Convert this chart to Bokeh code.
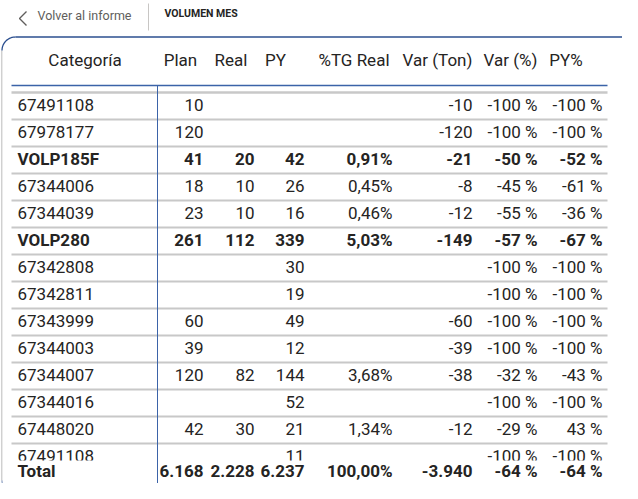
import numpy as np
from bokeh.plotting import figure
from bokeh.models import Range1d, ColumnDataSource
from bokeh.embed import file_html
from bokeh.resources import INLINE
from bokeh.core.properties import value

# ---------------- data ----------------
title = "VOLUMEN MES"
back_label = "Volver al informe"
headers = ["Categoría", "Plan", "Real", "PY", "%TG Real", "Var (Ton)", "Var (%)", "PY%"]
categories = ["67491108", "67978177", "VOLP185F", "67344006", "67344039", "VOLP280",
              "67342808", "67342811", "67343999", "67344003", "67344007", "67344016",
              "67448020", "67491108"]
is_group = [False, False, True, False, False, True, False, False, False, False, False,
            False, False, False]
plan = [10, 120, 41, 18, 23, 261, None, None, 60, 39, 120, None, 42, None]
real = [None, None, 20, 10, 10, 112, None, None, None, None, 82, None, 30, None]
py = [None, None, 42, 26, 16, 339, 30, 19, 49, 12, 144, 52, 21, 11]
tg_real = [None, None, 0.91, 0.45, 0.46, 5.03, None, None, None, None, 3.68, None, 1.34, None]
var_ton = [-10, -120, -21, -8, -12, -149, None, None, -60, -39, -38, None, -12, None]
var_pct = [-100, -100, -50, -45, -55, -57, -100, -100, -100, -100, -32, -100, -29, -100]
py_pct = [-100, -100, -52, -61, -36, -67, -100, -100, -100, -100, -43, -100, 43, -100]
total_label = "Total"
total_plan, total_real, total_py = 6168, 2228, 6237
total_tg, total_var_ton, total_var_pct, total_py_pct = 100.00, -3940, -64, -64


def fmt_int(v):
    if v is None:
        return ""
    return f"{v:,}".replace(",", ".")


def fmt_pct2(v):
    if v is None:
        return ""
    return f"{v:.2f}%".replace(".", ",")


def fmt_pct0(v):
    if v is None:
        return ""
    return f"{v:d} %"


columns = [
    [fmt_int(v) for v in plan],
    [fmt_int(v) for v in real],
    [fmt_int(v) for v in py],
    [fmt_pct2(v) for v in tg_real],
    [fmt_int(v) for v in var_ton],
    [fmt_pct0(v) for v in var_pct],
    [fmt_pct0(v) for v in py_pct],
]
total_cells = [fmt_int(total_plan), fmt_int(total_real), fmt_int(total_py),
               fmt_pct2(total_tg), fmt_int(total_var_ton), fmt_pct0(total_var_pct),
               fmt_pct0(total_py_pct)]

# ---------------- layout (pixel coordinates of the page) ----------------
FONT = value("Roboto")
TXT = "#252423"
BLUE = "#3b63a8"
CARD = "#2b4f8f"
GRID = "#c8c8c8"
DY = -7  # text anchor correction

col_right = [203, 254, 304, 392, 472, 537, 602]
header_center = [84.5, 180, 230.5, 275, 353.5, 437, 510, 565.5]
cat_left = 17
row_top0 = 92
row_h = 27
table_left, table_right = 11, 607
clip_y = 460

W, H = 622, 483
p = figure(width=W, height=H, output_backend="svg", toolbar_location=None,
           x_range=Range1d(0, W), y_range=Range1d(H, 0),
           x_axis_location=None, y_axis_location=None, min_border=0)
p.grid.visible = False
p.outline_line_color = None
p.background_fill_color = "white"
p.border_fill_color = "white"

# top bar
p.line([26, 19, 26], [11, 18, 25], line_color="#605e5c", line_width=1.4)
p.text([37], [22 + DY], text=[back_label], text_font=FONT, text_font_size=value("12.5px"),
       text_color="#605e5c", text_baseline="alphabetic", text_align="left")
p.segment([148], [3], [148], [30], line_color="#c8c6c4", line_width=1)
p.text([164], [20 + DY], text=[title], text_font=FONT, text_font_size=value("10.5px"),
       text_font_style="bold", text_color=TXT, text_baseline="alphabetic", text_align="left")

# card border
r = 13.5
p.segment([1.2], [50], [1.2], [480], line_color="#d0d0d0", line_width=1.5)
t = np.linspace(np.pi, 1.5 * np.pi, 20)
p.line(15 + r * np.cos(t), 50 + r * np.sin(t), line_color=CARD, line_width=1.3)
p.segment([15], [36.5], [640], [36.5], line_color=CARD, line_width=1.3)
t2 = np.linspace(0.5 * np.pi, np.pi, 20)
p.line(15 + r * np.cos(t2), 480 + r * np.sin(t2), line_color=CARD, line_width=1.0, line_alpha=0.7)

# header
p.text(header_center, [66 + DY] * len(headers), text=headers, text_font=FONT,
       text_font_size=value("17px"), text_color=TXT, text_baseline="alphabetic",
       text_align="center")
p.segment([table_left], [85], [table_right], [85], line_color=BLUE, line_width=1.5)
p.segment([table_left], [row_top0], [table_right], [row_top0], line_color=GRID, line_width=2.5)

# row separators
n = len(categories)
sep_y = [row_top0 + row_h * (i + 1) for i in range(n - 1)]
p.segment([table_left] * len(sep_y), sep_y, [table_right] * len(sep_y), sep_y,
          line_color=GRID, line_width=2)

# rows
base_y = [row_top0 + row_h * (i + 0.5) + 6 + DY for i in range(n)]
styles = ["bold" if g else "normal" for g in is_group]
src = ColumnDataSource(dict(x=[cat_left] * n, y=base_y, text=categories, style=styles))
p.text("x", "y", text="text", source=src, text_font=FONT, text_font_size=value("17px"),
       text_font_style="style", text_color=TXT, text_baseline="alphabetic", text_align="left")
for cx, col in zip(col_right, columns):
    s = ColumnDataSource(dict(x=[cx] * n, y=base_y, text=col, style=styles))
    p.text("x", "y", text="text", source=s, text_font=FONT, text_font_size=value("17px"),
           text_font_style="style", text_color=TXT, text_baseline="alphabetic",
           text_align="right")

# scroll clip mask
p.quad(left=[9], right=[612], top=[clip_y], bottom=[464.5], fill_color="white",
       line_color=None)

# vertical divider
p.segment([157], [85], [157], [485], line_color=BLUE, line_width=1)

# total row
p.text([cat_left], [477 + DY], text=[total_label], text_font=FONT, text_font_size=value("17px"),
       text_font_style="bold", text_color=TXT, text_baseline="alphabetic", text_align="left")
p.text(col_right, [477 + DY] * len(col_right), text=total_cells, text_font=FONT,
       text_font_size=value("17px"), text_font_style="bold", text_color=TXT,
       text_baseline="alphabetic", text_align="right")

open("out.html", "w").write(file_html(p, INLINE))
